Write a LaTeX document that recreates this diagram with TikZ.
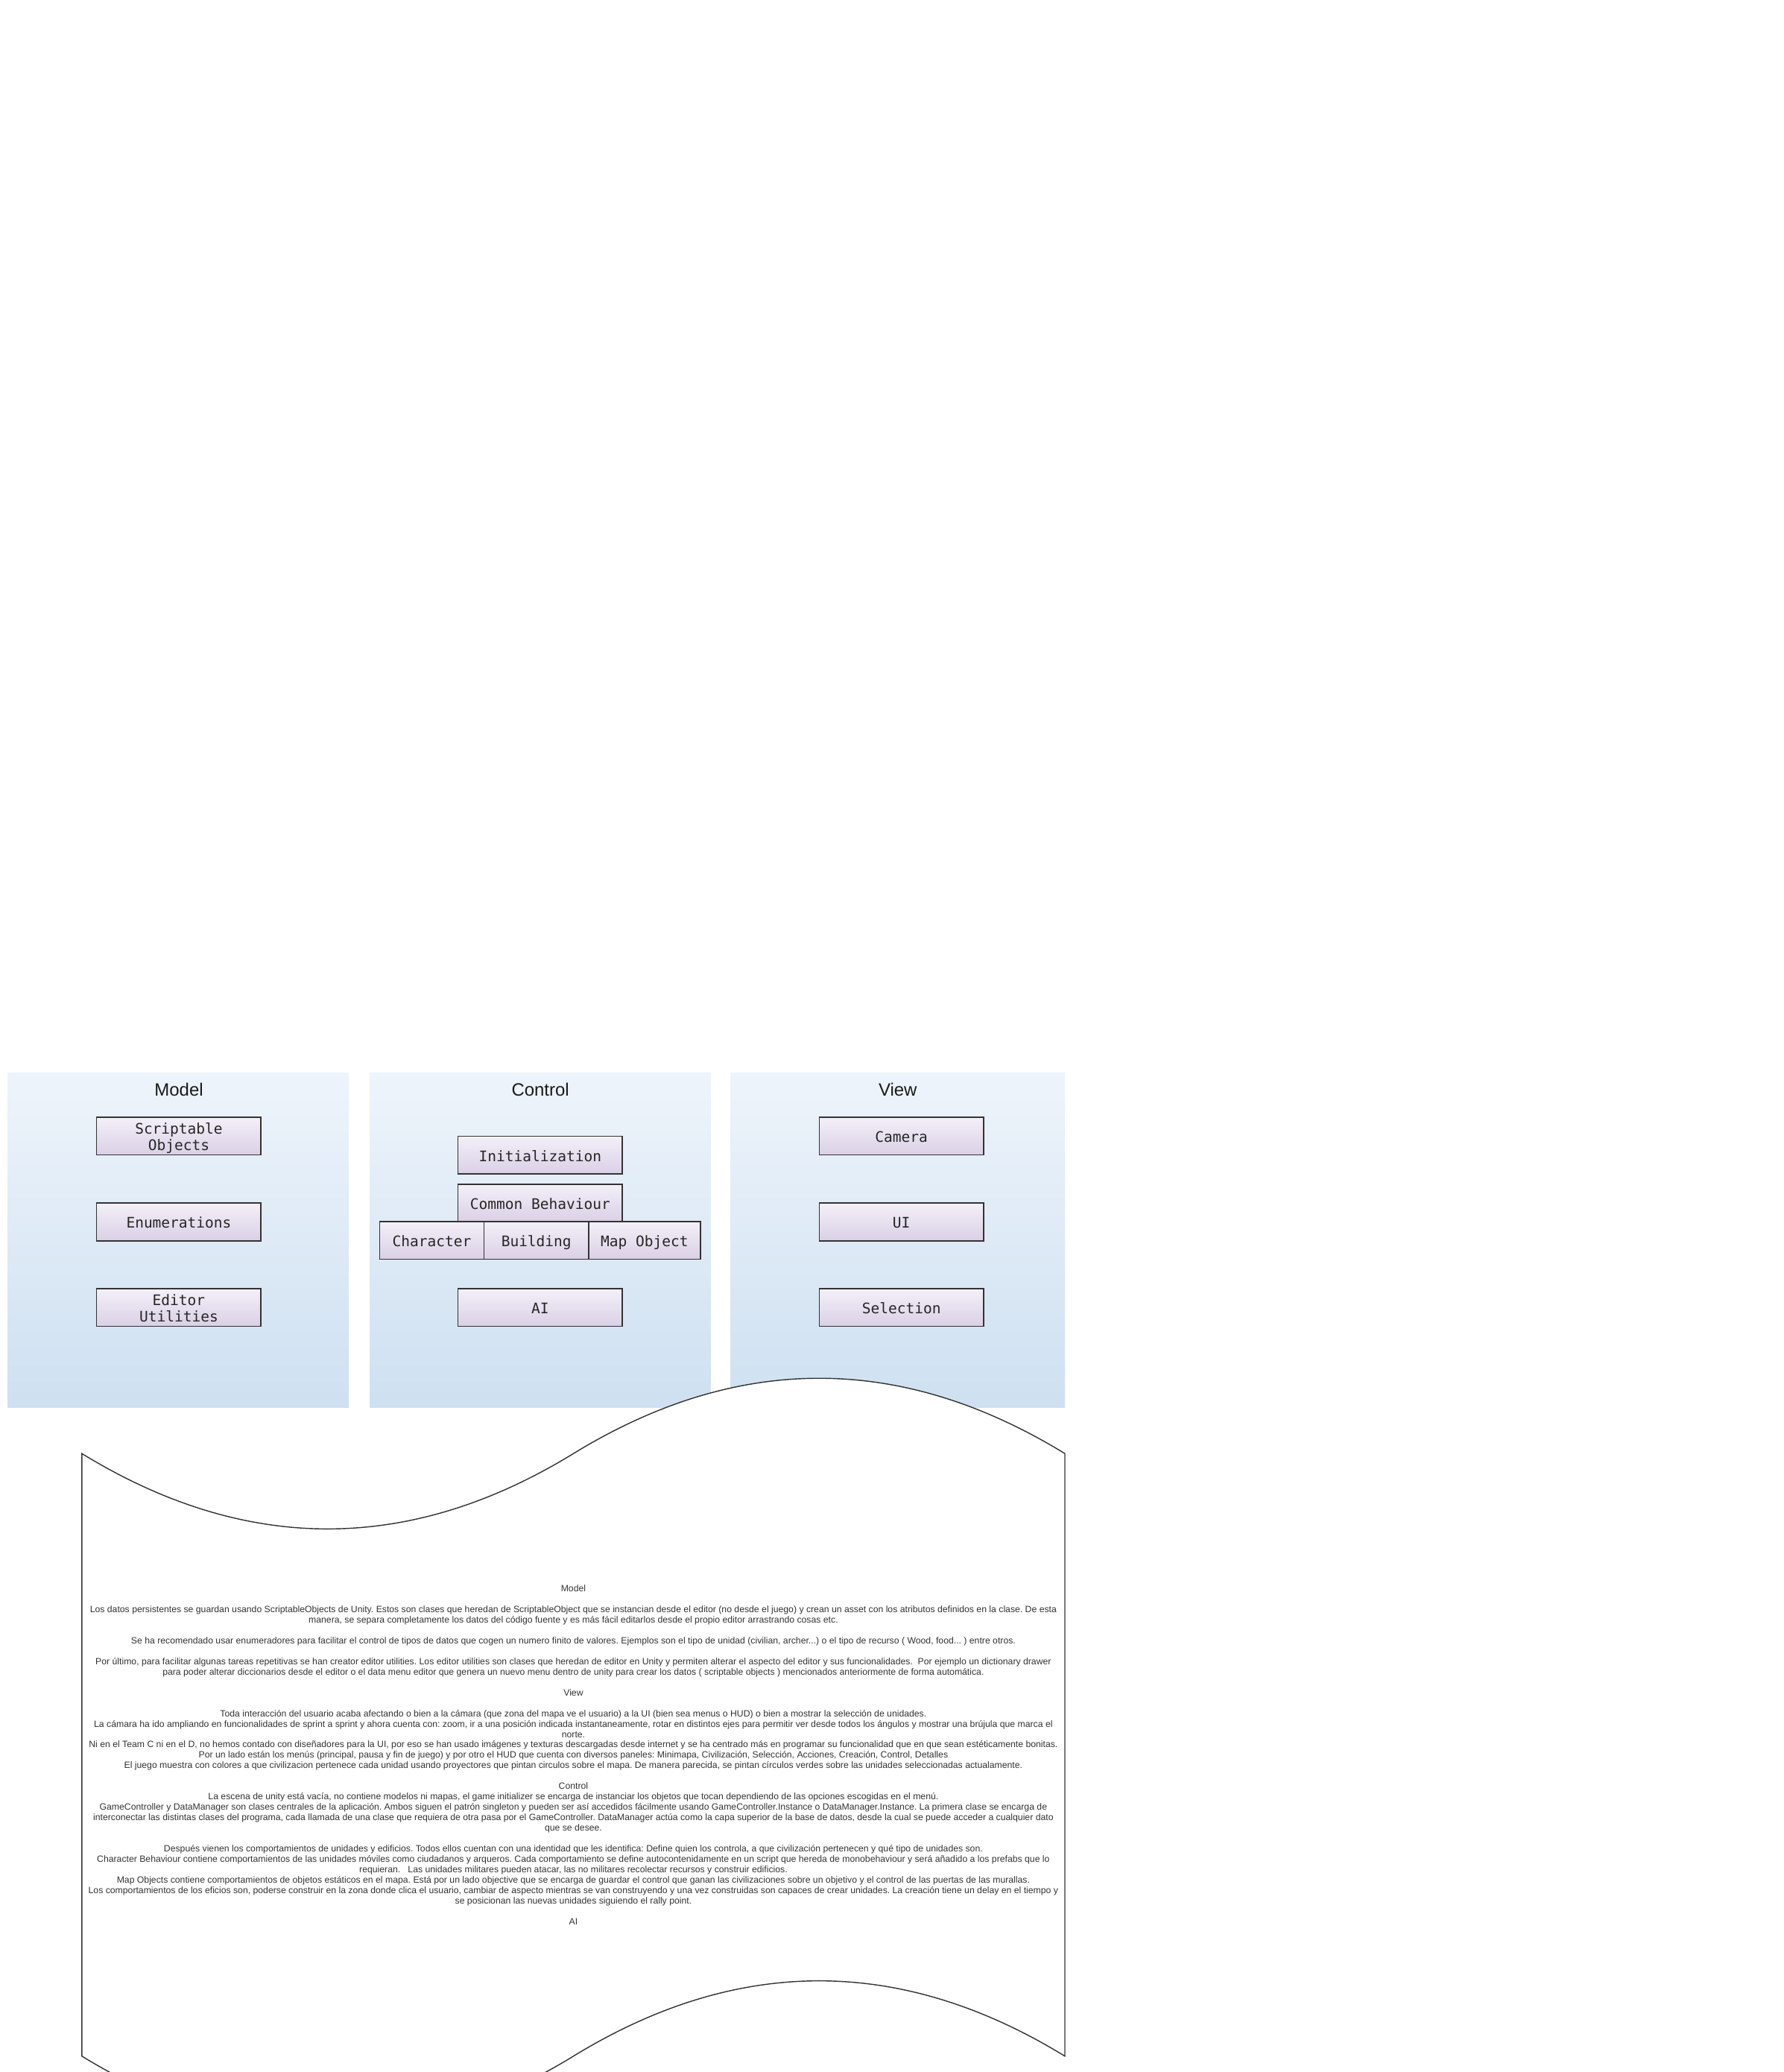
\documentclass[tikz,border=0pt]{standalone}
\usepackage{fontspec}
\setmainfont{Liberation Sans}
\newfontfamily\labelmono{DejaVu Sans Mono}
\definecolor{panelTop}{HTML}{EEF4FB}
\definecolor{panelBot}{HTML}{CEE0F1}
\definecolor{boxTop}{HTML}{F3F0F8}
\definecolor{boxBot}{HTML}{DAD0E6}
\definecolor{edge}{HTML}{333333}
\definecolor{bodytext}{HTML}{333333}
\newcommand{\tallstrut}{\rule{0pt}{11.6pt}}
\newcommand{\deepstrut}{\rule[-2.6pt]{0pt}{0pt}}
\tikzset{
  panel/.style={draw=none, top color=panelTop, bottom color=panelBot,
    minimum width=#1, minimum height=253pt, inner sep=0pt},
  heading/.style={font=\fontsize{13.5}{16}\selectfont, text=black!90, inner sep=0pt},
  comp/.style={draw=edge, line width=0.8pt, top color=boxTop, bottom color=boxBot,
    font=\labelmono\fontsize{11}{12.2}\selectfont, text=black!85, inner sep=0pt,
    minimum height=28.6pt, minimum width=124.3pt},
  oneline/.style={comp, text height=9.6pt, text depth=0pt},
  twoline/.style={comp, align=center},
  tapeshape/.style={draw=edge, line width=0.8pt, fill=white},
  notes/.style={font=\fontsize{6.9}{7.875}\selectfont\frenchspacing, text=bodytext, align=center, inner sep=0pt}
}
\begin{document}
\begin{tikzpicture}[x=1pt, y=-1pt]
\useasboundingbox (0,0) rectangle (1350,1568);
\clip (0,0) rectangle (1350,1568);

% three layer panels
\node[panel=258pt] (modelpanel) at (135,938.5) {};
\node[panel=258pt] (controlpanel) at (409,938.5) {};
\node[panel=253pt] (viewpanel) at (679.5,938.5) {};

\node[heading] (modeltitle) at (135.4,824.5) {Model};
\node[heading] (controltitle) at (409,824.5) {Control};
\node[heading] (viewtitle) at (679.5,824.5) {View};

% Model components
\node[twoline] (scriptable) at (135.35,859.8) {\tallstrut Scriptable\\Objects\deepstrut};
\node[oneline] (enums) at (135.35,924.7) {Enumerations};
\node[twoline] (editorutil) at (135.35,989.5) {\tallstrut Editor\\Utilities\deepstrut};

% Control components
\node[oneline] (init) at (408.85,874) {Initialization};
\node[oneline, minimum height=28.2pt] (common) at (408.85,910.3) {Common Behaviour};
\node[oneline, minimum width=79.1pt] (character) at (326.85,938.7) {Character};
\node[oneline, minimum width=79.1pt] (building) at (405.95,938.7) {Building};
\node[oneline, minimum width=84.6pt] (mapobject) at (487.8,938.7) {Map Object};
\node[oneline] (ai) at (408.85,989.5) {AI};

% View components
\node[oneline, minimum width=124.6pt] (camera) at (682.3,859.8) {Camera};
\node[oneline, minimum width=124.6pt] (ui) at (682.3,924.7) {UI};
\node[oneline, minimum width=124.6pt] (selection) at (682.3,989.5) {Selection};

% notes sheet with wavy top and bottom edges
\draw[tapeshape] (62,1100) .. controls (186,1176) and (310,1176) .. (434,1100)
  .. controls (558,1024) and (682,1024) .. (806,1100) -- (806,1556)
  .. controls (682,1480) and (558,1480) .. (434,1556)
  .. controls (310,1632) and (186,1632) .. (62,1556) -- cycle;

\node[notes, anchor=north] (notestext) at (434,1199.3) {%
Model\\[7.875pt]
Los datos persistentes se guardan usando ScriptableObjects de Unity. Estos son clases que heredan de ScriptableObject que se instancian desde el editor (no desde el juego) y crean un asset con los atributos definidos en la clase. De esta\\
manera, se separa completamente los datos del código fuente y es más fácil editarlos desde el propio editor arrastrando cosas etc.\\[7.875pt]
Se ha recomendado usar enumeradores para facilitar el control de tipos de datos que cogen un numero finito de valores. Ejemplos son el tipo de unidad (civilian, archer...) o el tipo de recurso ( Wood, food... ) entre otros.\\[7.875pt]
Por último, para facilitar algunas tareas repetitivas se han creator editor utilities. Los editor utilities son clases que heredan de editor en Unity y permiten alterar el aspecto del editor y sus funcionalidades. \ Por ejemplo un dictionary drawer\\
para poder alterar diccionarios desde el editor o el data menu editor que genera un nuevo menu dentro de unity para crear los datos ( scriptable objects ) mencionados anteriormente de forma automática.\\[7.875pt]
View\\[7.875pt]
Toda interacción del usuario acaba afectando o bien a la cámara (que zona del mapa ve el usuario) a la UI (bien sea menus o HUD) o bien a mostrar la selección de unidades.\\
La cámara ha ido ampliando en funcionalidades de sprint a sprint y ahora cuenta con: zoom, ir a una posición indicada instantaneamente, rotar en distintos ejes para permitir ver desde todos los ángulos y mostrar una brújula que marca el\\
norte.\\
Ni en el Team C ni en el D, no hemos contado con diseñadores para la UI, por eso se han usado imágenes y texturas descargadas desde internet y se ha centrado más en programar su funcionalidad que en que sean estéticamente bonitas.\\
Por un lado están los menús (principal, pausa y fin de juego) y por otro el HUD que cuenta con diversos paneles: Minimapa, Civilización, Selección, Acciones, Creación, Control, Detalles\\
El juego muestra con colores a que civilizacion pertenece cada unidad usando proyectores que pintan circulos sobre el mapa. De manera parecida, se pintan círculos verdes sobre las unidades seleccionadas actualamente.\\[7.875pt]
Control\\
La escena de unity está vacía, no contiene modelos ni mapas, el game initializer se encarga de instanciar los objetos que tocan dependiendo de las opciones escogidas en el menú.\\
GameController y DataManager son clases centrales de la aplicación. Ambos siguen el patrón singleton y pueden ser así accedidos fácilmente usando GameController.Instance o DataManager.Instance. La primera clase se encarga de\\
interconectar las distintas clases del programa, cada llamada de una clase que requiera de otra pasa por el GameController. DataManager actúa como la capa superior de la base de datos, desde la cual se puede acceder a cualquier dato\\
que se desee.\\[7.875pt]
Después vienen los comportamientos de unidades y edificios. Todos ellos cuentan con una identidad que les identifica: Define quien los controla, a que civilización pertenecen y qué tipo de unidades son.\\
Character Behaviour contiene comportamientos de las unidades móviles como ciudadanos y arqueros. Cada comportamiento se define autocontenidamente en un script que hereda de monobehaviour y será añadido a los prefabs que lo\\
requieran. \ \ Las unidades militares pueden atacar, las no militares recolectar recursos y construir edificios.\\
Map Objects contiene comportamientos de objetos estáticos en el mapa. Está por un lado objective que se encarga de guardar el control que ganan las civilizaciones sobre un objetivo y el control de las puertas de las murallas.\\
Los comportamientos de los eficios son, poderse construir en la zona donde clica el usuario, cambiar de aspecto mientras se van construyendo y una vez construidas son capaces de crear unidades. La creación tiene un delay en el tiempo y\\
se posicionan las nuevas unidades siguiendo el rally point.\\[7.875pt]
AI};
\end{tikzpicture}
\end{document}
